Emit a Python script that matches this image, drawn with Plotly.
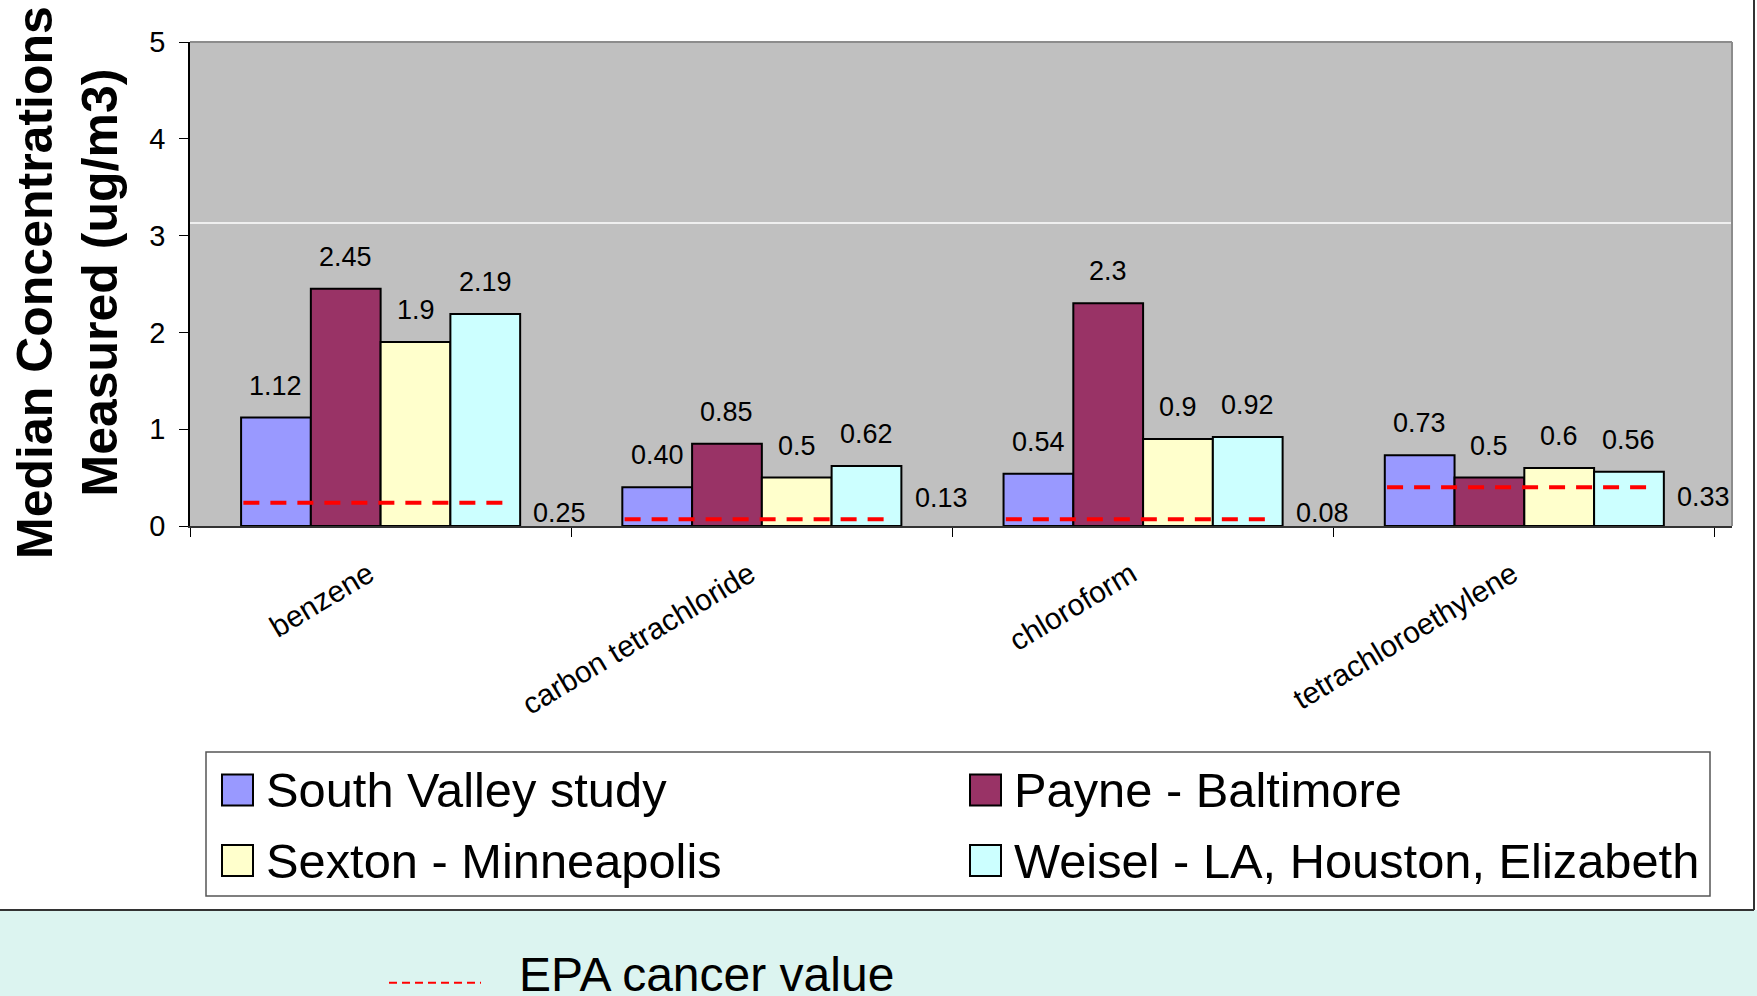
import plotly.graph_objects as go

# ---------------- data ----------------
categories = ["benzene", "carbon tetrachloride", "chloroform", "tetrachloroethylene"]
series_names = ["South Valley study", "Payne - Baltimore",
                "Sexton - Minneapolis", "Weisel - LA, Houston, Elizabeth"]
south_valley = [1.12, 0.40, 0.54, 0.73]
payne = [2.45, 0.85, 2.3, 0.5]
sexton = [1.9, 0.5, 0.9, 0.6]
weisel = [2.19, 0.62, 0.92, 0.56]
south_valley_labels = ["1.12", "0.40", "0.54", "0.73"]
payne_labels = ["2.45", "0.85", "2.3", "0.5"]
sexton_labels = ["1.9", "0.5", "0.9", "0.6"]
weisel_labels = ["2.19", "0.62", "0.92", "0.56"]
epa_cancer_values = [0.25, 0.13, 0.08, 0.33]
epa_cancer_labels = ["0.25", "0.13", "0.08", "0.33"]
epa_line_levels = [0.24, 0.07, 0.07, 0.40]   # dashed marker levels as drawn
y_ticks = [0, 1, 2, 3, 4, 5]

series_values = [south_valley, payne, sexton, weisel]
series_labels = [south_valley_labels, payne_labels, sexton_labels, weisel_labels]
colors = ["#9999FF", "#993366", "#FFFFCC", "#CCFFFF"]

# ---------------- geometry ----------------
W, H = 1757, 996
L, R, T, B = 190, 1732, 42, 526
FONT = "Arial, 'Liberation Sans', sans-serif"
BARGAP = 0.268
n_series = len(series_values)
bar_w = (1 - BARGAP) / n_series


def px(x):
    return (x - L) / (R - L)


def py(y):
    return (B - y) / (B - T)


fig = go.Figure()
for name, vals, col in zip(series_names, series_values, colors):
    fig.add_trace(go.Bar(
        x=categories, y=vals, name=name,
        marker=dict(color=col, line=dict(color="black", width=2)),
        showlegend=False, hoverinfo="x+y+name",
    ))

shapes = []
annotations = []

# slide band and chart-area border
shapes.append(dict(type="rect", xref="paper", yref="paper",
                   x0=px(0), x1=px(W), y0=py(H), y1=py(910),
                   fillcolor="#DCF4F0", line=dict(width=0), layer="below"))
shapes.append(dict(type="line", xref="paper", yref="paper",
                   x0=px(0), x1=px(1754), y0=py(910), y1=py(910),
                   line=dict(color="#333333", width=2)))
shapes.append(dict(type="line", xref="paper", yref="paper",
                   x0=px(1754), x1=px(1754), y0=py(0), y1=py(910),
                   line=dict(color="#333333", width=2)))

# plot-area border (top/right) and the white line
shapes.append(dict(type="line", xref="paper", yref="paper", x0=0, x1=1, y0=1, y1=1,
                   line=dict(color="#8C8C8C", width=2)))
shapes.append(dict(type="line", xref="paper", yref="paper", x0=1, x1=1, y0=0, y1=1,
                   line=dict(color="#8C8C8C", width=2)))
shapes.append(dict(type="line", xref="paper", yref="y", x0=0, x1=1, y0=3.13, y1=3.13,
                   line=dict(color="white", width=1.5), layer="below"))

# EPA dashed markers
for i, lvl in enumerate(epa_line_levels):
    shapes.append(dict(type="line", xref="x", yref="y",
                       x0=i - 0.36, x1=i + 0.34, y0=lvl, y1=lvl,
                       line=dict(color="#FF0000", width=4, dash="16px,11px")))

# bar value labels
for k, labels in enumerate(series_labels):
    for i, (v, t) in enumerate(zip(series_values[k], labels)):
        annotations.append(dict(
            x=i - (1 - BARGAP) / 2 + bar_w * (k + 0.5), y=v, xref="x", yref="y",
            text=t, showarrow=False, yanchor="middle", yshift=32,
            font=dict(family=FONT, size=27, color="black")))

# EPA value labels
epa_label_y = [0.13, 0.29, 0.13, 0.30]
for i, t in enumerate(epa_cancer_labels):
    annotations.append(dict(
        x=i + 0.47, y=epa_label_y[i], xref="x", yref="y", text=t,
        showarrow=False, yanchor="middle",
        font=dict(family=FONT, size=27, color="black")))

# y axis title
annotations.append(dict(
    x=px(67), y=py(283), xref="paper", yref="paper",
    text="<b>Median Concentrations<br>Measured (ug/m3)</b>",
    textangle=-90, showarrow=False, xanchor="center", yanchor="middle",
    font=dict(family=FONT, size=50, color="black")))

# legend (drawn)
shapes.append(dict(type="rect", xref="paper", yref="paper",
                   x0=px(206), x1=px(1710), y0=py(896), y1=py(752),
                   fillcolor="white", line=dict(color="#555555", width=1.5)))
legend_pos = [(222, 790), (970, 790), (222, 860.5), (970, 860.5)]
for (lx, ly), name, col in zip(legend_pos, series_names, colors):
    shapes.append(dict(type="rect", xref="paper", yref="paper",
                       x0=px(lx), x1=px(lx + 31), y0=py(ly + 15.5), y1=py(ly - 15.5),
                       fillcolor=col, line=dict(color="black", width=2)))
    annotations.append(dict(
        x=px(lx + 42), y=py(ly), xref="paper", yref="paper", text=name,
        showarrow=False, xanchor="left", yanchor="middle",
        font=dict(family=FONT, size=48.8, color="black")))

# EPA cancer value key in the band
shapes.append(dict(type="line", xref="paper", yref="paper",
                   x0=px(389), x1=px(481), y0=py(982.7), y1=py(982.7),
                   line=dict(color="#FF0000", width=2, dash="8px,5px")))
annotations.append(dict(
    x=px(517), y=py(974), xref="paper", yref="paper", text="EPA cancer value",
    showarrow=False, xanchor="left", yanchor="middle",
    font=dict(family=FONT, size=48, color="black")))

fig.update_layout(
    width=W, height=H,
    margin=dict(l=L, r=W - R, t=T, b=H - B, autoexpand=False),
    paper_bgcolor="white", plot_bgcolor="#C0C0C0",
    barmode="group", bargap=BARGAP, bargroupgap=0,
    showlegend=False,
    shapes=shapes, annotations=annotations,
    font=dict(family=FONT, color="black"),
)
fig.update_yaxes(range=[0, 5], tickvals=y_ticks, showgrid=False, zeroline=False,
                 showline=True, linecolor="black", linewidth=1.5,
                 ticks="outside", ticklen=9, tickcolor="black", tickwidth=1,
                 ticklabelstandoff=8,
                 tickfont=dict(family=FONT, size=29, color="black"))
fig.update_xaxes(type="category", showgrid=False, zeroline=False,
                 showline=True, linecolor="#333333", linewidth=2,
                 ticks="outside", ticklen=9, tickcolor="black", tickwidth=1,
                 tickson="boundaries", tickangle=-31, ticklabelstandoff=17,
                 ticklabelshift=-12,
                 tickfont=dict(family=FONT, size=30, color="black"))

fig.write_html(
    "out.html",
    config={"displayModeBar": False},
    post_script="document.body.style.margin='0';document.body.style.overflow='hidden';",
)
